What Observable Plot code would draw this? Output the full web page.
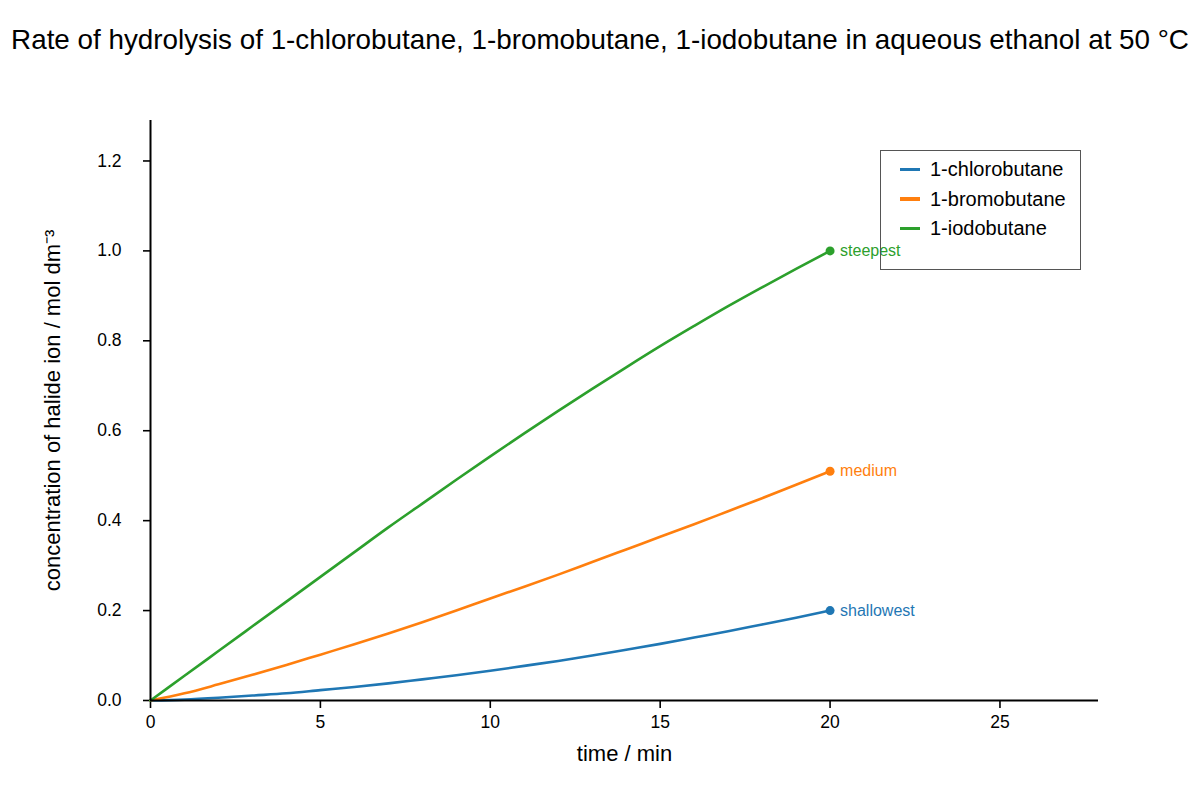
<!DOCTYPE html>
<html>
<head>
<meta charset="utf-8">
<script src="https://cdn.jsdelivr.net/npm/d3@7"></script>
<script src="https://cdn.jsdelivr.net/npm/@observablehq/plot@0.6"></script>
<style>
  html, body { margin: 0; padding: 0; background: #fff; }
  body { width: 1200px; height: 800px; position: relative; font-family: "Liberation Sans", Arial, sans-serif; overflow: hidden; }
  #title { height: 80px; line-height: 80px; text-align: center; font-size: 27.8px; color: #000; white-space: nowrap; }
  #legend { position: absolute; left: 880px; top: 150px; width: 201px; height: 120px; border: 1.3px solid #555; box-sizing: border-box; }
  .row { position: absolute; left: 19px; font-size: 20px; color: #000; display: flex; align-items: center; }
  .sw { width: 20px; height: 3.5px; margin-right: 10px; }
</style>
</head>
<body>
<div id="title">Rate of hydrolysis of 1-chlorobutane, 1-bromobutane, 1-iodobutane in aqueous ethanol at 50 °C</div>
<div id="chart"></div>
<div id="legend"></div>
<script>
const time = [0,1,2,3,4,5,6,7,8,9,10,11,12,13,14,15,16,17,18,19,20];
const chloro = [0,0.002,0.006,0.011,0.016,0.023,0.030,0.038,0.047,0.056,0.066,0.077,0.088,0.100,0.113,0.126,0.140,0.154,0.169,0.184,0.200];
const bromo  = [0,0.016,0.036,0.057,0.079,0.102,0.125,0.149,0.174,0.200,0.227,0.253,0.280,0.308,0.336,0.364,0.392,0.421,0.450,0.480,0.510];
const iodo   = [0,0.055,0.110,0.165,0.220,0.275,0.330,0.385,0.438,0.491,0.543,0.594,0.644,0.693,0.741,0.788,0.833,0.877,0.919,0.960,1.000];
const seriesNames = ["1-chlorobutane","1-bromobutane","1-iodobutane"];
const seriesColors = ["#1f77b4","#ff7f0e","#2ca02c"];
const endLabels = ["shallowest","medium","steepest"];
const xTicks = [0,5,10,15,20,25];
const yTicks = [0,0.2,0.4,0.6,0.8,1.0,1.2];

const allSeries = [chloro, bromo, iodo];
const rows = [];
allSeries.forEach((vals, i) => time.forEach((t, j) => rows.push({t, c: vals[j], name: seriesNames[i]})));
const ends = allSeries.map((vals, i) => ({t: time[time.length-1], c: vals[vals.length-1], name: seriesNames[i], label: endLabels[i]}));

const color = {domain: seriesNames, range: seriesColors};

const plot = Plot.plot({
  width: 1200,
  height: 720,
  marginTop: 40,
  marginBottom: 100,
  marginLeft: 150,
  marginRight: 102,
  style: {fontFamily: "Liberation Sans, Arial, sans-serif", fontSize: "17.5px", color: "#000", background: "#fff"},
  x: {domain: [0, 27.9]},
  y: {domain: [0, 1.29]},
  color,
  marks: [
    Plot.axisX({ticks: xTicks, tickSize: 8, tickPadding: 7, tickFormat: d3.format("d"), fontSize: 17.5, strokeWidth: 1.6, label: null}),
    Plot.axisX({ticks: [], label: "time / min", labelAnchor: "center", labelArrow: "none", labelOffset: 60, fontSize: 22}),
    Plot.axisY({ticks: yTicks, tickSize: 7, tickPadding: 22, tickFormat: d3.format(".1f"), fontSize: 17.5, strokeWidth: 1.6, label: null}),
    Plot.axisY({ticks: [], label: "concentration of halide ion / mol dm⁻³", labelAnchor: "center", labelArrow: "none", labelOffset: 106, fontSize: 22}),
    Plot.line(rows, {x: "t", y: "c", z: "name", stroke: "name", strokeWidth: 2.6, curve: "monotone-x"}),
    Plot.dot(ends, {x: "t", y: "c", fill: "name", r: 4.5}),
    Plot.text(ends, {x: "t", y: "c", text: "label", fill: "name", dx: 10, textAnchor: "start", fontSize: 16}),
    Plot.ruleX([0], {stroke: "#000", strokeWidth: 2}),
    Plot.ruleY([0], {stroke: "#000", strokeWidth: 2})
  ]
});
document.getElementById("chart").appendChild(plot);

const leg = document.getElementById("legend");
seriesNames.forEach((n, i) => {
  const r = document.createElement("div");
  r.className = "row";
  r.style.top = (7 + i * 29.5) + "px";
  r.innerHTML = `<span class="sw" style="background:${seriesColors[i]}"></span><span>${n}</span>`;
  leg.appendChild(r);
});
</script>
</body>
</html>
